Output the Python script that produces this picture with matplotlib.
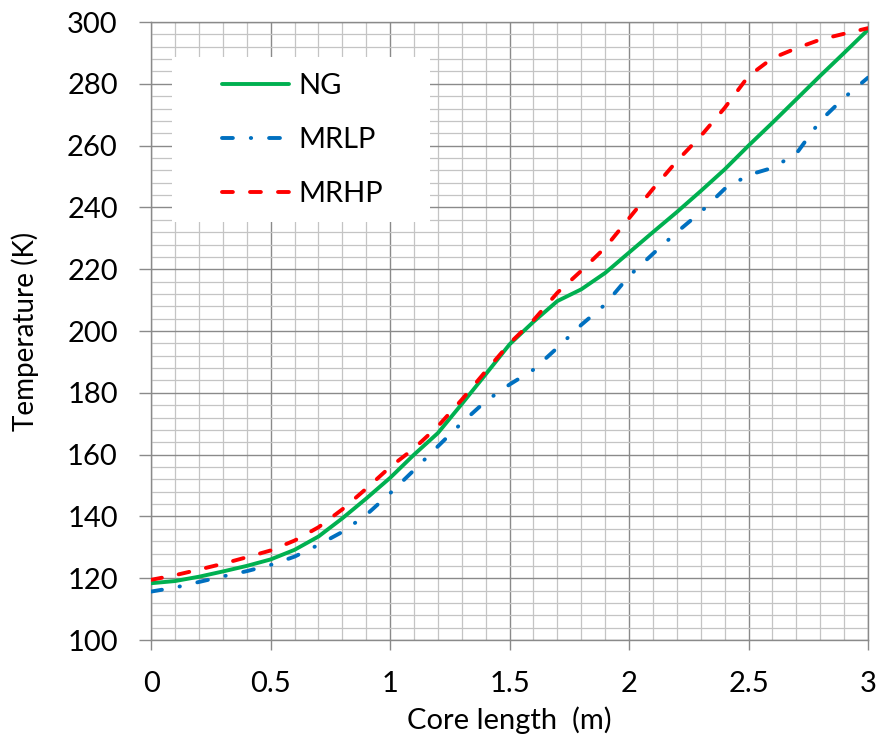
import numpy as np
import matplotlib.pyplot as plt
from matplotlib.patches import Rectangle
from matplotlib.ticker import MultipleLocator

plt.rcParams.update({"font.family": ["Lato", "DejaVu Sans"]})

# core length positions (m)
core_length = [0.0, 0.1, 0.2, 0.3, 0.4, 0.5, 0.6, 0.7, 0.8, 0.9,
               1.0, 1.1, 1.2, 1.3, 1.4, 1.5, 1.6, 1.7, 1.8, 1.9,
               2.0, 2.1, 2.2, 2.3, 2.4, 2.5, 2.6, 2.7, 2.8, 2.9, 3.0]

# temperatures (K)
temp_ng = [118.4, 119.1, 120.5, 122.2, 124.0, 126.1, 129.2, 133.5, 139.4, 145.8,
           152.5, 160.0, 167.0, 176.4, 186.0, 195.7, 203.0, 209.7, 213.5, 218.8,
           225.4, 232.0, 238.5, 245.3, 252.3, 260.0, 267.4, 275.0, 282.6, 290.0, 297.5]
temp_mrlp = [115.7, 117.0, 118.8, 120.6, 122.3, 124.3, 127.0, 130.8, 135.0, 140.5,
             147.5, 155.0, 162.7, 170.3, 177.3, 182.7, 187.5, 194.6, 202.0, 208.6,
             217.8, 225.0, 232.0, 238.5, 246.0, 250.5, 252.8, 257.4, 268.0, 275.5, 282.0]
temp_mrhp = [119.5, 121.0, 122.8, 124.7, 126.8, 129.0, 132.2, 136.5, 142.3, 149.0,
             156.0, 162.0, 169.2, 177.8, 187.0, 196.0, 203.5, 212.4, 219.5, 227.0,
             236.5, 246.0, 255.0, 263.1, 272.2, 282.5, 288.3, 291.5, 294.3, 296.2, 298.0]

series_labels = ["NG", "MRLP", "MRHP"]
x_ticks = [0, 0.5, 1, 1.5, 2, 2.5, 3]
x_tick_labels = ["0", "0.5", "1", "1.5", "2", "2.5", "3"]
y_ticks = list(range(100, 301, 20))

fig = plt.figure(figsize=(8.79, 7.46), dpi=100)
ax = fig.add_axes([0.172, 0.142, 0.8155, 0.8285])

ax.plot(core_length, temp_ng, color="#00B050", lw=2.8, label=series_labels[0],
        solid_capstyle="round", zorder=3)
ax.plot(core_length, temp_mrlp, color="#0070C0", lw=2.8, label=series_labels[1],
        dashes=(2.8, 4.6, 0.1, 4.6), dash_capstyle="round", zorder=3)
ax.plot(core_length, temp_mrhp, color="#FF0000", lw=2.8, label=series_labels[2],
        dashes=(2.8, 4.4), dash_capstyle="round", zorder=3)

ax.set_xlim(0, 3)
ax.set_ylim(100, 300)
ax.set_xticks(x_ticks)
ax.set_xticklabels(x_tick_labels)
ax.set_yticks(y_ticks)
ax.xaxis.set_minor_locator(MultipleLocator(0.1))
ax.yaxis.set_minor_locator(MultipleLocator(4))

ax.set_axisbelow(True)
ax.grid(True, which="major", color="#8a8a8a", lw=1.0)
ax.grid(True, which="minor", color="#c4c4c4", lw=0.9)
ax.tick_params(which="major", width=1.0, color="#8a8a8a",
               labelsize=21, labelcolor="#000000")
ax.tick_params(axis="y", which="major", length=9, pad=15)
ax.tick_params(axis="x", which="major", length=7, pad=15)
ax.tick_params(which="minor", length=0)
for s in ax.spines.values():
    s.set_color("#8a8a8a")
    s.set_linewidth(1.0)

ax.set_xlabel("Core length  (m)", fontsize=21, labelpad=7)
ax.set_ylabel("Temperature (K)", fontsize=20, labelpad=20)

# white legend panel over the grid
ax.add_patch(Rectangle((0.029, 0.676), 0.36, 0.268, transform=ax.transAxes,
                       facecolor="white", edgecolor="none", zorder=1))
ax.legend(loc="upper left", bbox_to_anchor=(0.099, 0.917), frameon=False,
          fontsize=21, handlelength=2.3, handletextpad=0.3, labelspacing=0.95,
          borderpad=0, borderaxespad=0)

fig.savefig("out.png", dpi=100)
